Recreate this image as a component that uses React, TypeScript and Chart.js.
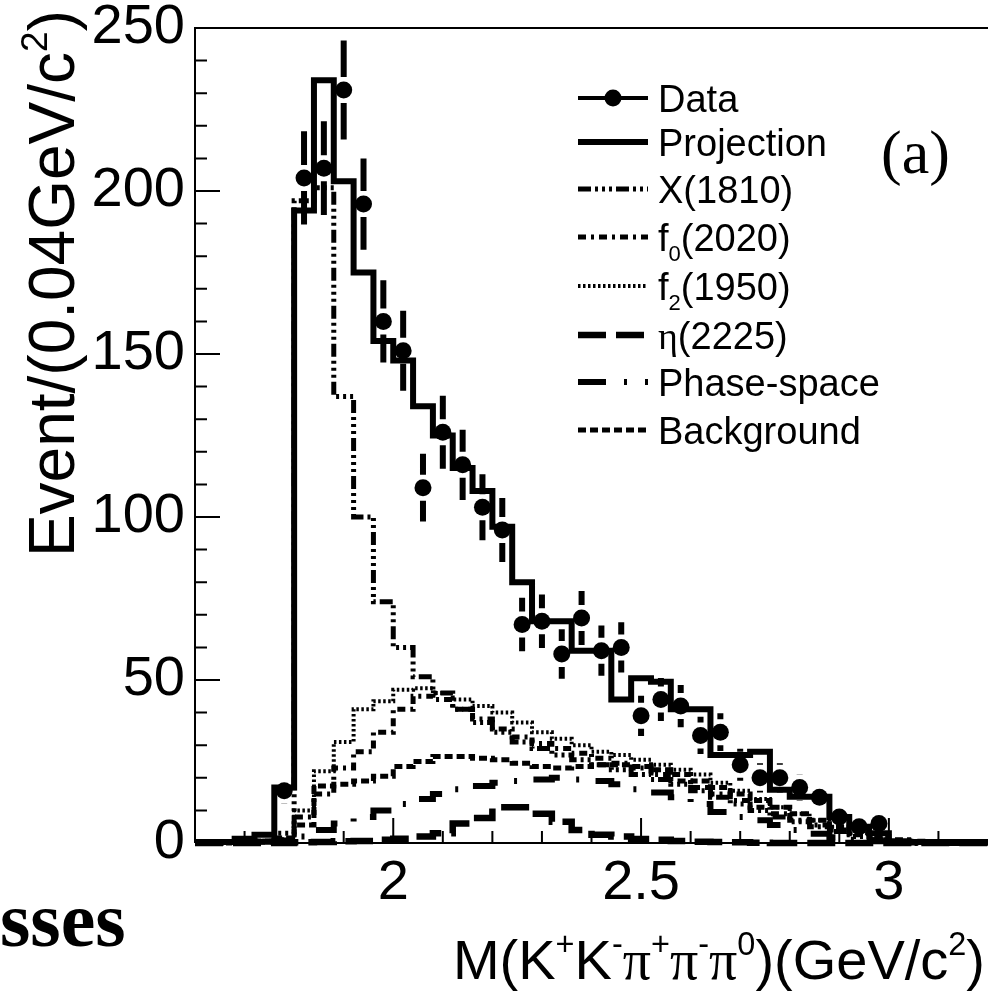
import React, { useEffect, useRef } from "react";
import { Chart, registerables } from "chart.js";

Chart.register(...registerables);

const SANS = '"Liberation Sans", Arial, Helvetica, sans-serif';
const SERIF = '"Liberation Serif", "Times New Roman", serif';

// Histogram bin edges (GeV/c^2), 0.04 GeV bins
const binEdges = [
  1.60, 1.64, 1.68, 1.72, 1.76, 1.80, 1.84, 1.88, 1.92, 1.96,
  2.00, 2.04, 2.08, 2.12, 2.16, 2.20, 2.24, 2.28, 2.32, 2.36,
  2.40, 2.44, 2.48, 2.52, 2.56, 2.60, 2.64, 2.68, 2.72, 2.76,
  2.80, 2.84, 2.88, 2.92, 2.96, 3.00, 3.04, 3.08, 3.12, 3.16, 3.20,
];

const projection = [
  0.3, 0.3, 1.3, 2.5, 17, 194, 234, 203, 175, 154,
  148, 134, 125, 115, 108, 97, 80, 68, 68, 59,
  59, 44, 50.5, 49.5, 41, 41, 27, 27, 28, 16.3,
  14.2, 14.2, 8, 5, 3, 0.5, 0.3, 0.3, 0.3, 0.3,
];

const x1810 = [
  0, 0, 0.3, 0.5, 3, 197, 201, 137, 100, 74,
  60, 51, 46, 41, 37, 34, 31, 29, 27, 25.5,
  24, 22.5, 21, 19.5, 18, 16, 14, 12, 10, 8,
  6.5, 5, 3.5, 2, 1, 0.3, 0, 0, 0, 0,
];

const f02020 = [
  0, 0, 0, 0.3, 1, 8, 15, 23, 28, 34,
  41, 45, 44, 41, 38, 35, 32.5, 30.5, 29, 27.5,
  26, 24.5, 23, 21, 19, 17, 15, 13, 11, 9,
  7, 5.5, 4, 2.5, 1, 0.3, 0, 0, 0, 0,
];

const f21950 = [
  0, 0, 0, 0.3, 1, 10, 22, 31, 41, 43.5,
  47, 47.5, 46, 44, 42, 40, 37, 34, 32, 30,
  28, 27, 25.5, 24, 22.5, 21, 18.5, 16, 13.5, 11,
  9, 7, 5, 3, 1.5, 0.5, 0, 0, 0, 0,
];

const eta2225 = [
  0, 0, 0, 0, 0, 0.2, 0.3, 0.5, 0.6, 1,
  1.3, 2, 3, 6, 7.7, 11, 11, 9, 6.5, 4,
  2.5, 2, 1.2, 1, 0.6, 0.4, 0.3, 0.2, 0.1, 0,
  0, 0, 0, 0, 0, 0, 0, 0, 0, 0,
];

const phaseSpace = [
  0, 0, 0.2, 0.4, 0.8, 2, 4, 6, 8, 10,
  12, 13.5, 15, 16.5, 17.5, 18.5, 19, 19.5, 20, 19.5,
  19, 18, 16.5, 15.5, 14, 12, 9.5, 8, 7, 5.5,
  4, 2.8, 1.8, 1, 0.5, 0.2, 0, 0, 0, 0,
];

const background = [
  0, 0.2, 0.3, 0.6, 1.5, 5.5, 17.5, 18, 19, 20.5,
  23.5, 25, 26.5, 26.5, 26, 25.5, 24.5, 23.5, 23, 23.5,
  24, 24, 23.5, 22.5, 21, 19, 17, 15, 13, 11,
  9, 7, 5, 3.5, 2, 1, 0.5, 0.2, 0, 0,
];

// Data points (bin centres), counts and errors
const dataCenters = [
  1.78, 1.82, 1.86, 1.90, 1.94, 1.98, 2.02, 2.06, 2.10, 2.14,
  2.18, 2.22, 2.26, 2.30, 2.34, 2.38, 2.42, 2.46, 2.50, 2.54,
  2.58, 2.62, 2.66, 2.70, 2.74, 2.78, 2.82, 2.86, 2.90, 2.94, 2.98,
];
const dataVals = [
  16, 204, 207, 231, 196, 160, 151, 109, 126, 116,
  103, 96, 67, 68, 58, 69, 59, 60, 39, 44,
  42, 33, 34, 24, 20, 20, 17, 14, 8, 5, 6,
];
const dataErr = [
  4.0, 14.3, 14.4, 15.2, 14.0, 12.6, 12.3, 10.4, 11.2, 10.8,
  10.1, 9.8, 8.2, 8.2, 7.6, 8.3, 7.7, 7.7, 6.2, 6.6,
  6.5, 5.7, 5.8, 4.9, 4.5, 4.5, 4.1, 3.7, 2.8, 2.2, 2.4,
];

// Axis ticks
const xMajorTicks = [2, 2.5, 3];
const xMinorTicks = [1.7, 1.8, 1.9, 2.1, 2.2, 2.3, 2.4, 2.6, 2.7, 2.8, 2.9, 3.1];
const yMajorTicks = [0, 50, 100, 150, 200, 250];
const yMinorTicks = [10, 20, 30, 40, 60, 70, 80, 90, 110, 120, 130, 140, 160, 170, 180, 190, 210, 220, 230, 240];

type Part = { t: string; k?: "sup" | "sub"; serif?: boolean };

const legendLabels: Part[][] = [
  [{ t: "Data" }],
  [{ t: "Projection" }],
  [{ t: "X(1810)" }],
  [{ t: "f" }, { t: "0", k: "sub" }, { t: "(2020)" }],
  [{ t: "f" }, { t: "2", k: "sub" }, { t: "(1950)" }],
  [{ t: "η", serif: true }, { t: "(2225)" }],
  [{ t: "Phase-space" }],
  [{ t: "Background" }],
];

const xTitle: Part[] = [
  { t: "M(K" }, { t: "+", k: "sup" }, { t: "K" }, { t: "-", k: "sup" },
  { t: "π", serif: true }, { t: "+", k: "sup" }, { t: "π", serif: true }, { t: "-", k: "sup" },
  { t: "π", serif: true }, { t: "0", k: "sup" }, { t: ")(GeV/c" }, { t: "2", k: "sup" }, { t: ")" },
];
const yTitle: Part[] = [{ t: "Event/(0.04GeV/c" }, { t: "2", k: "sup" }, { t: ")" }];

function drawRich(ctx: CanvasRenderingContext2D, parts: Part[], x: number, y: number, size: number, align: "left" | "right") {
  const fontFor = (p: Part) => {
    const s = p.k ? size * 0.58 : size;
    return `${s}px ${p.serif ? SERIF : SANS}`;
  };
  ctx.textAlign = "left";
  ctx.textBaseline = "alphabetic";
  let total = 0;
  const widths = parts.map((p) => {
    ctx.font = fontFor(p);
    const w = ctx.measureText(p.t).width;
    total += w;
    return w;
  });
  let cx = align === "right" ? x - total : x;
  parts.forEach((p, i) => {
    ctx.font = fontFor(p);
    const dy = p.k === "sup" ? -size * 0.42 : p.k === "sub" ? size * 0.28 : 0;
    ctx.fillText(p.t, cx, y + dy);
    cx += widths[i];
  });
}

const hist = (vals: number[]) => binEdges.map((x, i) => ({ x, y: vals[Math.min(i, vals.length - 1)] }));

const decorPlugin = {
  id: "decor",
  beforeDatasetsDraw(chart: any) {
    const { ctx, chartArea: a, scales } = chart;
    const xs = scales.x;
    const ys = scales.y;
    ctx.save();
    ctx.strokeStyle = "#000";
    ctx.lineWidth = 2;
    ctx.setLineDash([]);
    ctx.beginPath();
    ctx.moveTo(a.left, a.bottom);
    ctx.lineTo(a.left, a.top);
    ctx.lineTo(a.right + 2, a.top);
    ctx.moveTo(a.left, a.bottom);
    ctx.lineTo(a.right, a.bottom);
    for (const v of yMajorTicks) {
      const py = ys.getPixelForValue(v);
      ctx.moveTo(a.left, py);
      ctx.lineTo(a.left + 25, py);
    }
    for (const v of yMinorTicks) {
      const py = ys.getPixelForValue(v);
      ctx.moveTo(a.left, py);
      ctx.lineTo(a.left + 12, py);
    }
    for (const v of xMajorTicks) {
      const px = xs.getPixelForValue(v);
      ctx.moveTo(px, a.bottom);
      ctx.lineTo(px, a.bottom - 25);
    }
    for (const v of xMinorTicks) {
      const px = xs.getPixelForValue(v);
      ctx.moveTo(px, a.bottom);
      ctx.lineTo(px, a.bottom - 12);
    }
    ctx.stroke();
    ctx.restore();
  },
  afterDatasetsDraw(chart: any) {
    const { ctx, scales } = chart;
    const ys = scales.y;
    const meta = chart.getDatasetMeta(0);
    ctx.save();
    ctx.strokeStyle = "#000";
    ctx.lineWidth = 6;
    ctx.setLineDash([]);
    ctx.lineCap = "butt";
    const gap = 13;
    ctx.beginPath();
    meta.data.forEach((pt: any, i: number) => {
      const px = pt.x;
      const py = pt.y;
      const top = ys.getPixelForValue(dataVals[i] + dataErr[i]);
      const bot = ys.getPixelForValue(dataVals[i] - dataErr[i]);
      if (py - top > gap) {
        ctx.moveTo(px, top);
        ctx.lineTo(px, py - gap);
      }
      if (bot - py > gap) {
        ctx.moveTo(px, py + gap);
        ctx.lineTo(px, bot);
      }
    });
    ctx.stroke();
    ctx.restore();
  },
  afterDraw(chart: any) {
    const { ctx } = chart;
    const datasets = chart.data.datasets;
    ctx.save();
    ctx.fillStyle = "#000";
    ctx.strokeStyle = "#000";
    // Legend
    const rows = [98, 142, 189, 237, 286, 335, 382, 430];
    const lx0 = 578;
    const lx1 = 648;
    const tx = 658;
    rows.forEach((ry, i) => {
      const ds = datasets[i];
      ctx.setLineDash(ds.borderDash || []);
      ctx.lineWidth = ds.borderWidth;
      ctx.lineCap = "butt";
      ctx.beginPath();
      ctx.moveTo(lx0, ry);
      ctx.lineTo(lx1, ry);
      ctx.stroke();
      ctx.setLineDash([]);
      if (i === 0) {
        ctx.beginPath();
        ctx.arc((lx0 + lx1) / 2, ry, 8.5, 0, Math.PI * 2);
        ctx.fill();
      }
      drawRich(ctx, legendLabels[i], tx, ry + 13.5, 38, "left");
    });
    // Axis titles
    drawRich(ctx, xTitle, 985, 979, 56, "right");
    ctx.save();
    ctx.translate(74, 10);
    ctx.rotate(-Math.PI / 2);
    drawRich(ctx, yTitle, 0, 0, 64, "right");
    ctx.restore();
    // Panel label
    ctx.font = `62px ${SERIF}`;
    ctx.textAlign = "left";
    ctx.textBaseline = "alphabetic";
    ctx.fillText("(a)", 881, 173);
    // Cropped caption fragment
    ctx.font = `bold 78px ${SERIF}`;
    ctx.fillText("sses", 0, 946);
    ctx.restore();
  },
};

export default function App() {
  const ref = useRef<HTMLCanvasElement>(null);
  useEffect(() => {
    const canvas = ref.current;
    if (!canvas) return;
    const compStyle = { pointRadius: 0, fill: false, clip: false as any, stepped: true as any, borderColor: "#000", borderCapStyle: "butt" as const, borderJoinStyle: "miter" as const };
    const chart = new Chart(canvas, {
      type: "line",
      data: {
        datasets: [
          {
            label: "Data",
            data: dataCenters.map((x, i) => ({ x, y: dataVals[i] })),
            showLine: false,
            pointRadius: 8.5,
            pointStyle: "circle",
            pointBackgroundColor: "#000",
            pointBorderColor: "#000",
            pointBorderWidth: 0,
            borderColor: "#000",
            borderWidth: 4,
            order: 0,
            clip: false as any,
          },
          { label: "Projection", data: hist(projection), ...compStyle, borderWidth: 6, order: 1 },
          { label: "X(1810)", data: hist(x1810), ...compStyle, borderWidth: 5, borderDash: [13, 4, 3, 4, 3, 4, 3, 4], order: 2 },
          { label: "f0(2020)", data: hist(f02020), ...compStyle, borderWidth: 5, borderDash: [8, 5, 3, 5], order: 3 },
          { label: "f2(1950)", data: hist(f21950), ...compStyle, borderWidth: 4, borderDash: [2.5, 2.5], order: 4 },
          { label: "η(2225)", data: hist(eta2225), ...compStyle, borderWidth: 6.5, borderDash: [28, 10], order: 5 },
          { label: "Phase-space", data: hist(phaseSpace), ...compStyle, borderWidth: 6, borderDash: [28, 18, 3, 18], order: 6 },
          { label: "Background", data: hist(background), ...compStyle, borderWidth: 5, borderDash: [8, 4], order: 7 },
        ] as any,
      },
      options: {
        animation: false,
        responsive: false,
        maintainAspectRatio: false,
        devicePixelRatio: 1,
        layout: { autoPadding: false, padding: { top: 28, right: 0, left: 0, bottom: 0 } },
        plugins: { legend: { display: false }, tooltip: { enabled: false }, title: { display: false } },
        elements: { line: { tension: 0 } },
        scales: {
          x: {
            type: "linear",
            min: 1.6,
            max: 3.2,
            grid: { display: false, drawTicks: false },
            border: { display: false },
            ticks: {
              color: "#000",
              font: { family: SANS, size: 56 },
              padding: 7,
              autoSkip: false,
              maxRotation: 0,
              callback: (v: any) => String(v),
            },
            afterBuildTicks: (s: any) => {
              s.ticks = xMajorTicks.map((v) => ({ value: v }));
            },
            afterFit: (s: any) => {
              s.height = 151;
              s.paddingLeft = 0;
              s.paddingRight = 0;
              s.paddingTop = 0;
              s.paddingBottom = 0;
            },
          },
          y: {
            type: "linear",
            min: 0,
            max: 250,
            grid: { display: false, drawTicks: false },
            border: { display: false },
            ticks: {
              color: "#000",
              font: { family: SANS, size: 56 },
              padding: 10,
              stepSize: 50,
              callback: (v: any) => String(v),
            },
            afterBuildTicks: (s: any) => {
              s.ticks = yMajorTicks.map((v) => ({ value: v }));
            },
            afterFit: (s: any) => {
              s.width = 195;
              s.paddingLeft = 0;
              s.paddingRight = 0;
              s.paddingTop = 0;
              s.paddingBottom = 0;
            },
          },
        },
      } as any,
      plugins: [decorPlugin],
    });
    return () => chart.destroy();
  }, []);
  return (
    <div style={{ position: "absolute", left: 0, top: 0, width: 988, height: 994, background: "#fff", overflow: "hidden" }}>
      <canvas ref={ref} width={988} height={994} style={{ display: "block", width: 988, height: 994 }} />
    </div>
  );
}
